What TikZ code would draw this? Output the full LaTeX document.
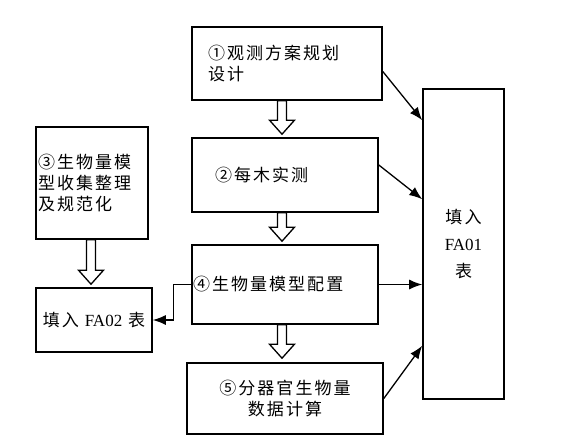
\documentclass[tikz,border=0pt]{standalone}
\usepackage{fontspec}
\setmainfont{Noto Sans CJK SC}[LetterSpace=12]
\newfontfamily\latinfont{Liberation Serif}
\usetikzlibrary{arrows.meta, calc}

% hollow block arrow pointing down
\newcommand{\hollowarrow}[2]{%
  \draw[line width=1.3pt, fill=white] let \p1=(#1), \p2=(#2) in
    ({\x1-4.5pt},\y1) -- ({\x1-4.5pt},{\y2+14pt}) -- ({\x1-12.5pt},{\y2+14pt}) -- (\x1,\y2)
    -- ({\x1+12.5pt},{\y2+14pt}) -- ({\x1+4.5pt},{\y2+14pt}) -- ({\x1+4.5pt},\y1) -- cycle;}

\begin{document}
\begin{tikzpicture}[x=1pt, y=-1pt,
    box/.style={draw, line width=1.6pt, inner ysep=0pt, font=\fontsize{17}{21}\selectfont},
    link/.style={line width=1.3pt, -{Latex[length=13pt, width=10pt]}}]
\useasboundingbox (0,0) rectangle (579,442);
\node[box, minimum width=190pt, minimum height=73pt, inner xsep=16pt, text width=158pt, align=left] (plan) at (287,63.5) {①观测方案规划\\设计};
\node[box, minimum width=186pt, minimum height=74pt, inner xsep=23pt, text width=140pt, align=left] (survey) at (285,175) {②每木实测};
\node[box, minimum width=112pt, minimum height=112pt, inner xsep=2pt, text width=108pt, align=left] (collect) at (92,183) {③生物量模\\型收集整理\\及规范化};
\node[box, minimum width=116pt, minimum height=64pt, align=center] (fa02) at (94,320) {填入 {\latinfont FA02} 表};
\node[box, minimum width=186pt, minimum height=79pt, inner xsep=1pt, text width=184pt, align=left] (config) at (285,284.5) {④生物量模型配置};
\node[box, minimum width=196pt, minimum height=71pt, inner xsep=8pt, text width=180pt, align=center] (organ) at (285,398.5) {⑤分器官生物量\\数据计算};
\node[box, minimum width=81pt, minimum height=310pt, inner xsep=5pt, text width=71pt, align=center] (fa01) at (463.5,244) {填入\\[6pt]{\latinfont FA01}\\[6pt]表};

\hollowarrow{[xshift=-5pt]plan.south}{[yshift=3pt]survey.north}
\hollowarrow{[xshift=-3pt]survey.south}{[yshift=3pt]config.north}
\hollowarrow{[xshift=-3pt]config.south}{[yshift=4pt]organ.north}
\hollowarrow{[xshift=-1pt]collect.south}{[yshift=3pt]fa02.north}

\draw[link] ([yshift=-8pt]plan.east) -- ([yshift=-32pt]fa01.north west);
\draw[link] ([yshift=10pt]survey.east) -- ([yshift=-111pt]fa01.north west);
\draw[link] (config.east) -- (config.east -| fa01.west);
\draw[link] (organ.east) -- ([yshift=54pt]fa01.south west);
\draw[link] (config.west) -- ++(-18,0) |- (fa02.east);
\end{tikzpicture}
\end{document}
